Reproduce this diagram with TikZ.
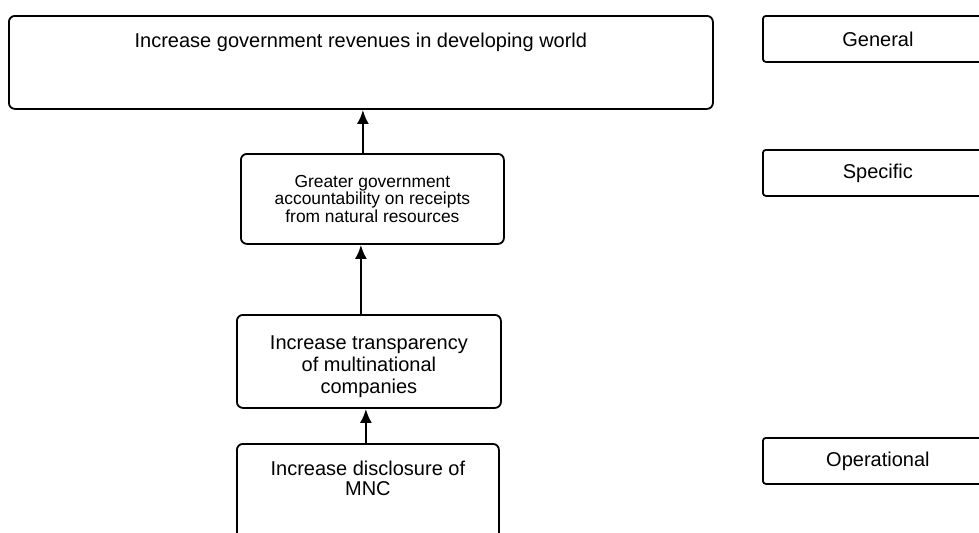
\documentclass[tikz,border=0pt]{standalone}
\usepackage{fontspec}
\setmainfont{Liberation Sans}
\usepackage{tikz}
\usetikzlibrary{arrows.meta}

\begin{document}
\begin{tikzpicture}[x=0.5pt, y=-0.5pt,
	goal/.style={draw, line width=0.9pt, rounded corners=3pt, anchor=north west, align=center, inner sep=0pt},
	level/.style={draw, line width=0.9pt, rounded corners=1.5pt, anchor=north west, inner sep=0pt,
		minimum width=115pt, minimum height=23pt, font=\fontsize{10}{12}\selectfont},
	flow/.style={line width=1.3pt, -{Latex[length=7pt, width=6pt]}}]
	\clip (0, 0) rectangle (979, 532);

	\node[goal, minimum width=352pt, text height=16pt, text depth=30.5pt, font=\fontsize{10}{12}\selectfont]
		(top) at (8, 15) {Increase government revenues in developing world};
	\node[goal, minimum width=131.5pt, minimum height=45pt, font=\fontsize{8.7}{8.7}\selectfont]
		(spec) at (240, 153) {Greater government\\accountability on receipts\\from natural resources};
	\node[goal, minimum width=132pt, text height=39.5pt, text depth=7pt, font=\fontsize{10}{11}\selectfont]
		(transp) at (236, 314) {Increase transparency\\of multinational\\companies};
	\node[goal, minimum width=131pt, text height=26pt, text depth=32.5pt, font=\fontsize{10}{10}\selectfont]
		(disc) at (236, 443) {Increase disclosure of\\MNC};

	\node[level] (general) at (762, 15) {General};
	\node[level] (specific) at (762, 149) {Specific};
	\node[level] (operational) at (762, 437) {Operational};

	\draw[flow] ([xshift=-4.75pt]spec.north) -- ([xshift=-4.75pt]spec.north |- top.south);
	\draw[flow] ([xshift=-4pt]transp.north) -- ([xshift=-4pt]transp.north |- spec.south);
	\draw[flow] ([xshift=-1pt]disc.north) -- ([xshift=-1pt]disc.north |- transp.south);
\end{tikzpicture}
\end{document}
